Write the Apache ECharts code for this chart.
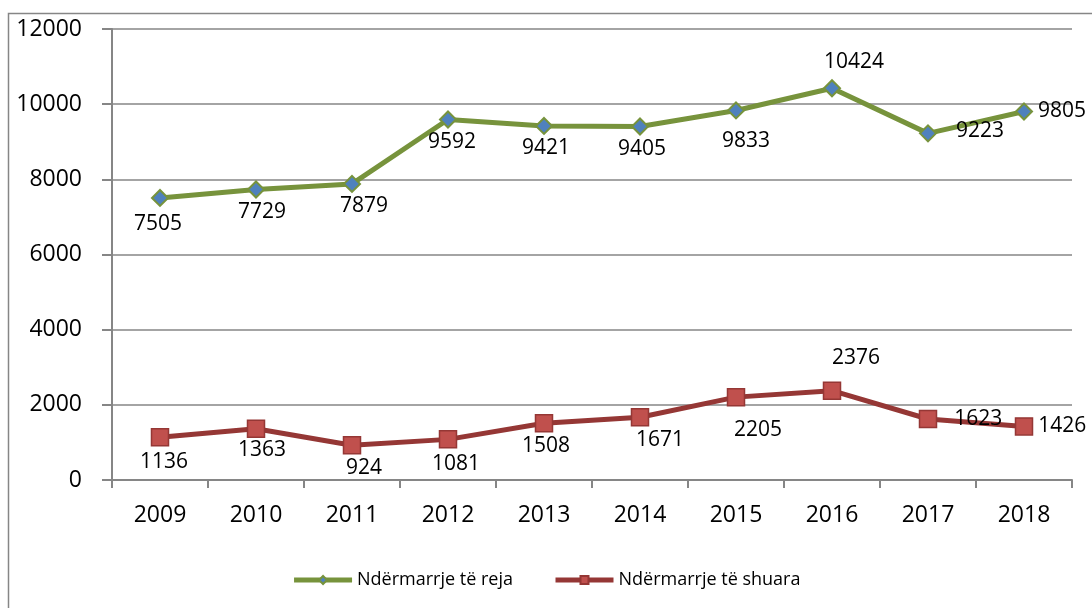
<!DOCTYPE html>
<html><head><meta charset="utf-8">
<script src="https://cdn.jsdelivr.net/npm/echarts@6/dist/echarts.min.js"></script>
<style>html,body{margin:0;padding:0;background:#fff}#c{width:1092px;height:608px}</style>
</head><body><div id="c"></div>
<script>
const categories = ['2009','2010','2011','2012','2013','2014','2015','2016','2017','2018'];
const newEnterprises = [7505, 7729, 7879, 9592, 9421, 9405, 9833, 10424, 9223, 9805];
const closedEnterprises = [1136, 1363, 924, 1081, 1508, 1671, 2205, 2376, 1623, 1426];
const seriesNames = ['Ndërmarrje të reja', 'Ndërmarrje të shuara'];

const FONT = '"Open Sans", Lato, sans-serif';
function lbl(pos, off) {
  return { show: true, position: pos, offset: off, fontSize: 21, fontFamily: FONT, color: '#000', distance: 5 };
}
const greenLabels = [
  lbl('bottom',[-2,2]), lbl('bottom',[6,-2]), lbl('bottom',[12,-2]), lbl('bottom',[4,-2]),
  lbl('bottom',[2,-2]), lbl('bottom',[2,-2]), lbl('bottom',[10,6]), lbl('top',[22,-2]),
  lbl('right',[14,-2]), lbl('right',[0,0])
];
const redLabels = [
  lbl('bottom',[4,0]), lbl('bottom',[6,-4]), lbl('bottom',[12,-2]), lbl('bottom',[8,0]),
  lbl('bottom',[2,-2]), lbl('bottom',[20,-2]), lbl('bottom',[22,8]), lbl('top',[24,-8]),
  lbl('right',[12,0]), lbl('right',[0,0])
];

const chart = echarts.init(document.getElementById('c'), null, {renderer: 'canvas'});
chart.setOption({
  animation: false,
  backgroundColor: '#fff',
  graphic: [{
    type: 'rect', shape: {x: 8.5, y: 13.5, width: 1100, height: 620},
    style: {fill: 'none', stroke: '#868686', lineWidth: 1.5}, silent: true, z: -1
  }],
  grid: {left: 112, right: 20, top: 29, bottom: 128},
  legend: {
    bottom: 14, left: 'center', itemWidth: 58, itemHeight: 10, itemGap: 40,
    textStyle: {fontSize: 18, fontFamily: FONT, color: '#000'},
    lineStyle: {width: 5},
    data: seriesNames
  },
  xAxis: {
    type: 'category', data: categories, boundaryGap: true,
    axisLine: {lineStyle: {color: '#868686', width: 2}},
    axisTick: {show: true, length: 8, alignWithLabel: false, lineStyle: {color: '#868686', width: 2}},
    axisLabel: {fontSize: 23, fontFamily: FONT, color: '#000', margin: 24}
  },
  yAxis: {
    type: 'value', min: 0, max: 12000, interval: 2000,
    axisLine: {show: true, lineStyle: {color: '#868686', width: 2}},
    axisTick: {show: true, length: 10, lineStyle: {color: '#868686', width: 2}},
    splitLine: {lineStyle: {color: '#868686', width: 1.5}},
    axisLabel: {fontSize: 23, fontFamily: FONT, color: '#000', margin: 30, formatter: v => String(v)}
  },
  series: [
    {
      name: seriesNames[0], type: 'line',
      data: newEnterprises.map((v, i) => ({value: v, label: greenLabels[i]})),
      symbol: 'diamond', symbolSize: 16,
      lineStyle: {color: '#77933C', width: 5},
      itemStyle: {color: '#4F81BD', borderColor: '#77933C', borderWidth: 2},
      z: 3
    },
    {
      name: seriesNames[1], type: 'line',
      data: closedEnterprises.map((v, i) => ({value: v, label: redLabels[i]})),
      symbol: 'rect', symbolSize: 17,
      lineStyle: {color: '#953735', width: 5},
      itemStyle: {color: '#C0504D', borderColor: '#953735', borderWidth: 1.5},
      z: 3
    }
  ]
});
</script></body></html>
